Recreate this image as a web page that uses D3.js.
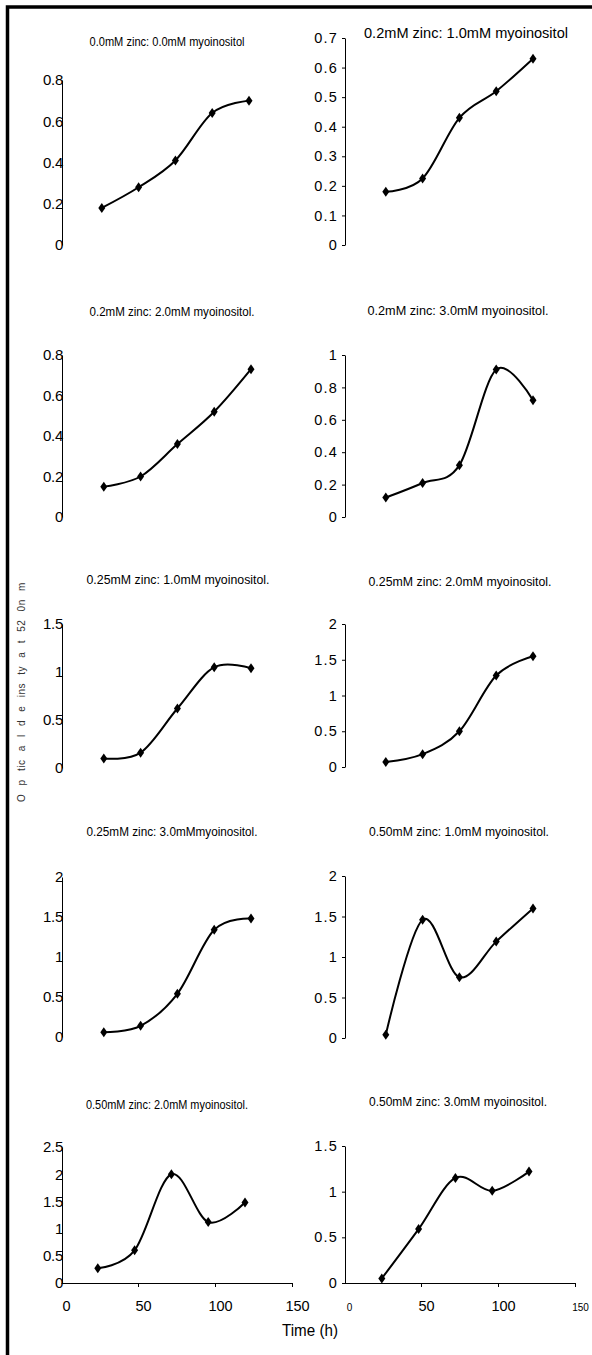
<!DOCTYPE html>
<html>
<head>
<meta charset="utf-8">
<script src="https://cdn.jsdelivr.net/npm/d3@7"></script>
<style>
  body { margin: 0; background: #fff; }
  svg { display: block; }
</style>
</head>
<body>
<svg id="chart"></svg>
<script>
(function () {

// sampling times (h), shared by every panel
const times = [24, 48, 72, 96, 120];
const xTicks = [0, 50, 100, 150];

// panel titles, in reading order
const titles = [
  "0.0mM zinc: 0.0mM myoinositol",
  "0.2mM zinc: 1.0mM myoinositol",
  "0.2mM zinc: 2.0mM myoinositol.",
  "0.2mM zinc: 3.0mM myoinositol.",
  "0.25mM zinc: 1.0mM myoinositol.",
  "0.25mM zinc: 2.0mM myoinositol.",
  "0.25mM zinc: 3.0mMmyoinositol.",
  "0.50mM zinc: 1.0mM myoinositol.",
  "0.50mM zinc: 2.0mM myoinositol.",
  "0.50mM zinc: 3.0mM myoinositol."
];

// optical density at 520 nm, one array per treatment
const zn000_mi0 = [0.18, 0.28, 0.41, 0.64, 0.70];
const zn020_mi1 = [0.18, 0.225, 0.43, 0.52, 0.63];
const zn020_mi2 = [0.15, 0.20, 0.36, 0.52, 0.73];
const zn020_mi3 = [0.12, 0.21, 0.32, 0.91, 0.72];
const zn025_mi1 = [0.10, 0.16, 0.62, 1.05, 1.04];
const zn025_mi2 = [0.07, 0.18, 0.50, 1.28, 1.55];
const zn025_mi3 = [0.06, 0.14, 0.54, 1.34, 1.48];
const zn050_mi1 = [0.04, 1.46, 0.75, 1.19, 1.60];
const zn050_mi2 = [0.27, 0.60, 2.00, 1.12, 1.48];
const zn050_mi3 = [0.05, 0.59, 1.15, 1.01, 1.22];
const series = [zn000_mi0, zn020_mi1, zn020_mi2, zn020_mi3, zn025_mi1,
                zn025_mi2, zn025_mi3, zn050_mi1, zn050_mi2, zn050_mi3];

// y tick labels per panel
const yTicks = [
  [0, 0.2, 0.4, 0.6, 0.8],
  [0, 0.1, 0.2, 0.3, 0.4, 0.5, 0.6, 0.7],
  [0, 0.2, 0.4, 0.6, 0.8],
  [0, 0.2, 0.4, 0.6, 0.8, 1],
  [0, 0.5, 1, 1.5],
  [0, 0.5, 1, 1.5, 2],
  [0, 0.5, 1, 1.5, 2],
  [0, 0.5, 1, 1.5, 2],
  [0, 0.5, 1, 1.5, 2, 2.5],
  [0, 0.5, 1, 1.5]
];

const yLabel = "O p tic a l d e ins ty a t 52 0n m";
const xLabel = "Time (h)";

// page layout of each panel (pixels): plot origin, y range, title centre/baseline/size/width
const layout = [
  {col: 0, ox: 65, y0: 245, y1: 80,   tx: 167, ty: 46,   fs: 12, tw: 155},
  {col: 1, ox: 349, y0: 245, y1: 38,  tx: 466, ty: 38,   fs: 14.5, tw: 204},
  {col: 0, ox: 67, y0: 517, y1: 355,  tx: 172, ty: 316,  fs: 12, tw: 165},
  {col: 1, ox: 349, y0: 517, y1: 355, tx: 458, ty: 315,  fs: 12.5, tw: 181},
  {col: 0, ox: 67, y0: 768, y1: 624,  tx: 178, ty: 584,  fs: 12.5, tw: 183},
  {col: 1, ox: 349, y0: 767, y1: 624, tx: 460, ty: 586,  fs: 12.5, tw: 183},
  {col: 0, ox: 67, y0: 1037, y1: 877, tx: 172, ty: 836,  fs: 12, tw: 171},
  {col: 1, ox: 349, y0: 1038, y1: 876, tx: 459, ty: 836, fs: 12.5, tw: 180},
  {col: 0, ox: 61, y0: 1283, y1: 1147, tx: 167, ty: 1109, fs: 12, tw: 162},
  {col: 1, ox: 345, y0: 1283, y1: 1146, tx: 458, ty: 1106, fs: 12.5, tw: 178}
];
const axisX = [62, 345];

const SANS = "'Liberation Sans',Arial,sans-serif";

const svg = d3.select("#chart")
    .attr("width", 592)
    .attr("height", 1355);

// frame on the left and top
svg.append("path")
    .attr("d", "M7.5,1355V7H592")
    .attr("fill", "none")
    .attr("stroke", "#000")
    .attr("stroke-width", 3.5);

const line = d3.line().curve(d3.curveCatmullRom.alpha(0));
const fmt = d => String(+d.toFixed(2));

layout.forEach((p, i) => {
    const x = d3.scaleLinear().domain([0, 150]).range([p.ox, p.ox + 230]);
    const y = d3.scaleLinear().domain([0, d3.max(yTicks[i])]).range([p.y0, p.y1]);
    const g = svg.append("g");

    // title, squeezed to the narrow face of the original
    g.append("text")
        .attr("x", p.tx)
        .attr("y", p.ty)
        .attr("text-anchor", "middle")
        .attr("textLength", p.tw)
        .attr("lengthAdjust", "spacingAndGlyphs")
        .style("font-family", SANS)
        .style("font-size", p.fs + "px")
        .text(titles[i]);

    // y axis
    const yAxis = d3.axisLeft(y).tickValues(yTicks[i]).tickFormat(fmt).tickSizeOuter(0);
    if (p.col === 0) yAxis.tickSizeInner(0).tickPadding(-1);
    else yAxis.tickSizeInner(3).tickPadding(4);
    const ya = g.append("g")
        .attr("transform", `translate(${axisX[p.col]},0)`)
        .call(yAxis);
    ya.select(".domain").attr("stroke", "#000");
    ya.selectAll("text")
        .attr("fill", "#000")
        .style("font-family", SANS)
        .style("font-size", p.col === 0 ? "15px" : "14.5px")
        .style("letter-spacing", p.col === 0 ? "-0.3px" : "1.2px");

    // x axis on the bottom row only
    if (i >= 8) {
        const xa = g.append("g")
            .attr("transform", `translate(0,${p.y0})`)
            .call(d3.axisBottom(d3.scaleLinear().domain([0, 150]).range([axisX[p.col] - 1, axisX[p.col] + 230]))
                .tickValues(xTicks).tickSizeInner(4).tickSizeOuter(0).tickPadding(14));
        xa.select(".domain").attr("stroke", "#000");
        xa.selectAll(".tick").filter(d => d === 0).select("line").remove();
        xa.selectAll("text")
            .attr("fill", "#000")
            .attr("dx", 5)
            .style("font-family", SANS)
            .style("font-size", "14.5px");
        if (p.col === 1) {
            xa.selectAll(".tick").filter(d => d === 0 || d === 150).select("text")
                .attr("y", 21)
                .style("font-size", "10px");
        }
    }

    const pts = times.map((t, k) => [x(t), y(series[i][k])]);

    g.append("path")
        .attr("d", line(pts))
        .attr("fill", "none")
        .attr("stroke", "#000")
        .attr("stroke-width", 2);

    g.selectAll(".pt")
        .data(pts)
        .enter().append("path")
        .attr("class", "pt")
        .attr("transform", d => `translate(${d[0]},${d[1]})`)
        .attr("d", "M0,-5L3.5,0L0,5L-3.5,0Z")
        .attr("fill", "#000");
});

// shared axis titles
svg.append("text")
    .attr("transform", "translate(25,802) rotate(-90)")
    .attr("fill", "#333")
    .style("font-family", SANS)
    .style("font-size", "10px")
    .style("word-spacing", "5px")
    .style("letter-spacing", "0.5px")
    .text(yLabel);

svg.append("text")
    .attr("x", 310)
    .attr("y", 1336)
    .attr("text-anchor", "middle")
    .attr("textLength", 56)
    .attr("lengthAdjust", "spacingAndGlyphs")
    .style("font-family", SANS)
    .style("font-size", "17px")
    .text(xLabel);

})();
</script>
</body>
</html>
